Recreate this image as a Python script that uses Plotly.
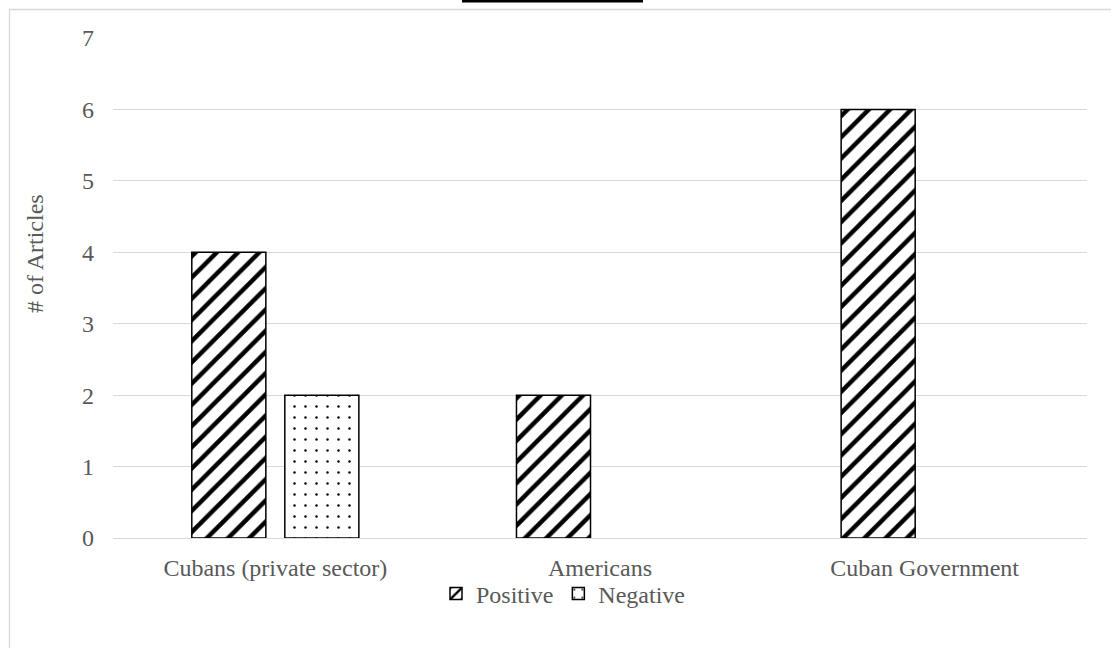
import plotly.graph_objects as go

# Article counts by beneficiary and tone
categories = ["Cubans (private sector)", "Americans", "Cuban Government"]
positive = [4, 2, 6]
negative = [2, 0, 0]
y_ticks = [0, 1, 2, 3, 4, 5, 6, 7]

FONT = "Liberation Serif, Times New Roman, serif"
GREY = "#595959"
GRID = "#d9d9d9"

# plot area in pixels
L, R, T, B = 113, 24, 38, 110
W, H = 1111, 648
pw, ph = W - L - R, H - T - B


def px_x(x):
    return (x - L) / pw


def px_y(y):
    return (H - B - y) / ph


def outline(values):
    # empty bars get no outline so nothing is drawn for them
    return [1.5 if v else 0 for v in values]


fig = go.Figure()
fig.add_trace(go.Bar(
    name="Positive", x=categories, y=positive,
    marker=dict(color="white",
                line=dict(color="black", width=outline(positive)),
                pattern=dict(shape="/", fgcolor="black", bgcolor="white",
                             fgopacity=1, size=15, solidity=0.3,
                             fillmode="overlay")),
))
fig.add_trace(go.Bar(
    name="Negative", x=categories, y=negative,
    marker=dict(color="white",
                line=dict(color="black", width=outline(negative)),
                pattern=dict(shape=".", fgcolor="black", bgcolor="white",
                             fgopacity=1, size=11, solidity=0.04,
                             fillmode="overlay")),
))

shapes = [
    # outer chart frame
    dict(type="rect", xref="paper", yref="paper",
         x0=px_x(9.5), x1=px_x(1130), y0=px_y(9.5), y1=px_y(670),
         line=dict(color=GRID, width=1.3), fillcolor="rgba(0,0,0,0)",
         layer="below"),
    # underline of the caption above the chart
    dict(type="rect", xref="paper", yref="paper",
         x0=px_x(462), x1=px_x(643), y0=px_y(2.5), y1=px_y(-2),
         line=dict(width=0), fillcolor="black"),
]

annotations = [
    # value axis title
    dict(text="# of Articles", xref="paper", yref="paper",
         x=px_x(35), y=px_y(254), xanchor="center", yanchor="middle",
         textangle=-90, showarrow=False,
         font=dict(family=FONT, size=24, color=GREY)),
]

fig.update_layout(
    width=W, height=H,
    margin=dict(l=L, r=R, t=T, b=B),
    paper_bgcolor="white", plot_bgcolor="white",
    font=dict(family=FONT, color=GREY, size=24),
    barmode="group", bargap=0.427, bargroupgap=0.204,
    showlegend=True,
    legend=dict(orientation="h", x=px_x(436), xanchor="left",
                y=px_y(594), yanchor="middle",
                font=dict(family=FONT, size=24, color=GREY),
                itemwidth=30, tracegroupgap=0,
                bgcolor="rgba(0,0,0,0)"),
    shapes=shapes,
    annotations=annotations,
)
fig.update_xaxes(showgrid=False, showline=False, ticks="",
                 tickfont=dict(family=FONT, size=24, color=GREY),
                 ticklabelstandoff=13)
fig.update_yaxes(range=[0, 7], tickvals=y_ticks, showgrid=True,
                 gridcolor=GRID, gridwidth=1,
                 zeroline=True, zerolinecolor=GRID, zerolinewidth=1.3,
                 showline=False, ticks="",
                 tickfont=dict(family=FONT, size=24, color=GREY),
                 ticklabelstandoff=18)

fig.write_html("out.html")
